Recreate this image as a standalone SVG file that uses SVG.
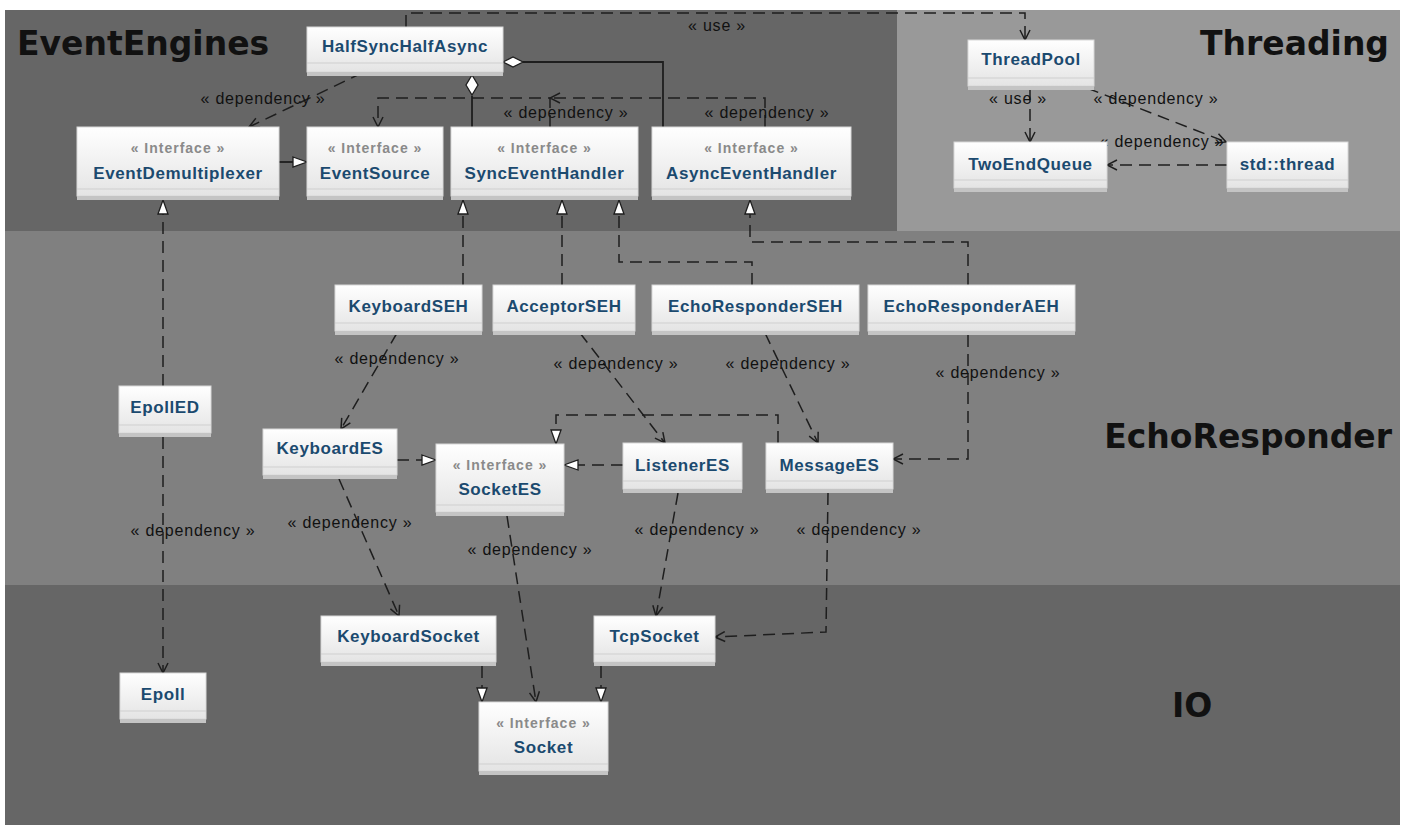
<svg xmlns="http://www.w3.org/2000/svg" width="1408" height="830" viewBox="0 0 1408 830">
<defs>
<linearGradient id="gbox" x1="0" y1="0" x2="0" y2="1">
<stop offset="0" stop-color="#ffffff"/>
<stop offset="1" stop-color="#e4e4e4"/>
</linearGradient>
<marker id="open" viewBox="0 0 12 12" refX="11" refY="6" markerWidth="12" markerHeight="12" markerUnits="userSpaceOnUse" orient="auto">
<path d="M1,1 L11,6 L1,11" fill="none" stroke="#1e1e1e" stroke-width="1.5" stroke-dasharray="none"/>
</marker>
<marker id="tri" viewBox="0 0 16 12" refX="15" refY="6" markerWidth="16" markerHeight="12" markerUnits="userSpaceOnUse" orient="auto">
<path d="M1,1 L15,6 L1,11 Z" fill="#ffffff" stroke="#1e1e1e" stroke-width="1.3" stroke-dasharray="none"/>
</marker>
<style>
.box{fill:url(#gbox);stroke:#d8d8d8;stroke-width:1}
.sep{stroke:#cfcfcf;stroke-width:1}
.foot{fill:#c4c4c4}
.name{font-family:"Liberation Sans",Arial,sans-serif;font-weight:bold;font-size:17px;letter-spacing:0.6px;fill:#1b4a6f;text-anchor:middle}
.ster{font-family:"Liberation Sans",Arial,sans-serif;font-weight:bold;font-size:14px;letter-spacing:1px;fill:#8a8a8a;text-anchor:middle}
.lbl{font-family:"Liberation Sans",Arial,sans-serif;font-size:16px;letter-spacing:0.8px;fill:#111;text-anchor:middle}
.region{font-family:"DejaVu Sans",Verdana,sans-serif;font-weight:bold;font-size:33px;fill:#111}
.dash{fill:none;stroke:#1e1e1e;stroke-width:1.5;stroke-dasharray:12 7}
.solid{fill:none;stroke:#1e1e1e;stroke-width:1.8}
.dep{marker-end:url(#open)}
.real{marker-end:url(#tri)}
.dia{fill:#ffffff;stroke:#1e1e1e;stroke-width:1.3}
</style>
</defs>
<rect x="0" y="0" width="1408" height="830" fill="#ffffff"/>
<g id="regions">
<rect x="5" y="10" width="892" height="222" fill="#666666"/>
<rect x="897" y="10" width="503" height="222" fill="#999999"/>
<rect x="5" y="231" width="1395" height="354" fill="#808080"/>
<rect x="5" y="585" width="1395" height="240" fill="#666666"/>
<text class="region" x="17" y="55">EventEngines</text>
<text class="region" x="1389" y="55" text-anchor="end">Threading</text>
<text class="region" x="1392" y="448" text-anchor="end">EchoResponder</text>
<text class="region" x="1172" y="717">IO</text>
</g>
<g id="connectors">
<path class="dash dep" d="M406,27 L406,13 L1025,13 L1025,40"/>
<text class="lbl" x="717" y="31">« use »</text>
<path class="dash dep" d="M362,73 L249,127"/>
<text class="lbl" x="263" y="104">« dependency »</text>
<path class="dash dep" d="M550,127 L550,98 L378,98 L378,127"/>
<text class="lbl" x="566" y="118">« dependency »</text>
<path class="dash dep" d="M765,127 L765,98 L550,98"/>
<text class="lbl" x="767" y="118">« dependency »</text>
<path class="solid" d="M472,96 L472,127"/>
<polygon class="dia" points="472,75 478,85 472,95 466,85"/>
<path class="solid" d="M523,62 L663,62 L663,127"/>
<polygon class="dia" points="503,62 513,57 523,62 513,67"/>
<path class="solid real" d="M279,162 L307,162"/>
<path class="dash dep" d="M1030,90 L1030,142"/>
<text class="lbl" x="1018" y="104">« use »</text>
<path class="dash dep" d="M1087,88 L1226,142"/>
<text class="lbl" x="1156" y="104">« dependency »</text>
<path class="dash dep" d="M1227,165 L1107,165"/>
<text class="lbl" x="1162" y="147">« dependency »</text>
<path class="dash real" d="M163,386 L163,200"/>
<path class="dash real" d="M463,285 L463,200"/>
<path class="dash real" d="M562,285 L562,200"/>
<path class="dash real" d="M752,285 L752,262 L619,262 L619,200"/>
<path class="dash real" d="M968,285 L968,242 L750,242 L750,200"/>
<path class="dash dep" d="M397,333 L341,429"/>
<text class="lbl" x="397" y="364">« dependency »</text>
<path class="dash dep" d="M580,333 L665,443"/>
<text class="lbl" x="616" y="369">« dependency »</text>
<path class="dash dep" d="M765,333 L818,443"/>
<text class="lbl" x="788" y="369">« dependency »</text>
<path class="dash dep" d="M968,335 L968,459 L893,459"/>
<text class="lbl" x="998" y="378">« dependency »</text>
<path class="dash real" d="M397,460 L436,460"/>
<path class="dash real" d="M623,465 L564,465"/>
<path class="dash real" d="M778,443 L778,415 L556,415 L556,444"/>
<path class="dash dep" d="M163,437 L163,673"/>
<text class="lbl" x="193" y="536">« dependency »</text>
<path class="dash dep" d="M339,479 L399,616"/>
<text class="lbl" x="350" y="528">« dependency »</text>
<path class="dash dep" d="M507,516 L536,702"/>
<text class="lbl" x="530" y="555">« dependency »</text>
<path class="dash dep" d="M678,493 L656,616"/>
<text class="lbl" x="697" y="535">« dependency »</text>
<path class="dash dep" d="M828,493 L826,632 L715,637"/>
<text class="lbl" x="859" y="535">« dependency »</text>
<path class="dash real" d="M482,666 L482,702"/>
<path class="dash real" d="M601,666 L601,702"/>
</g>
<g id="node-HalfSyncHalfAsync" transform="translate(307,27)">
<rect class="box" width="196" height="45"/><line class="sep" x1="0" y1="36" x2="196" y2="36"/><rect class="foot" y="45" width="196" height="4"/>
<text class="name" x="98" y="25">HalfSyncHalfAsync</text>
</g>
<g id="node-EventDemultiplexer" transform="translate(77,127)">
<rect class="box" width="202" height="69"/><line class="sep" x1="0" y1="62" x2="202" y2="62"/><rect class="foot" y="69" width="202" height="4"/>
<text class="ster" x="101" y="26">« Interface »</text>
<text class="name" x="101" y="52">EventDemultiplexer</text>
</g>
<g id="node-EventSource" transform="translate(307,127)">
<rect class="box" width="136" height="69"/><line class="sep" x1="0" y1="62" x2="136" y2="62"/><rect class="foot" y="69" width="136" height="4"/>
<text class="ster" x="68" y="26">« Interface »</text>
<text class="name" x="68" y="52">EventSource</text>
</g>
<g id="node-SyncEventHandler" transform="translate(451,127)">
<rect class="box" width="187" height="69"/><line class="sep" x1="0" y1="62" x2="187" y2="62"/><rect class="foot" y="69" width="187" height="4"/>
<text class="ster" x="93.5" y="26">« Interface »</text>
<text class="name" x="93.5" y="52">SyncEventHandler</text>
</g>
<g id="node-AsyncEventHandler" transform="translate(652,127)">
<rect class="box" width="199" height="69"/><line class="sep" x1="0" y1="62" x2="199" y2="62"/><rect class="foot" y="69" width="199" height="4"/>
<text class="ster" x="99.5" y="26">« Interface »</text>
<text class="name" x="99.5" y="52">AsyncEventHandler</text>
</g>
<g id="node-ThreadPool" transform="translate(968,40)">
<rect class="box" width="126" height="46"/><line class="sep" x1="0" y1="38" x2="126" y2="38"/><rect class="foot" y="46" width="126" height="4"/>
<text class="name" x="63" y="25">ThreadPool</text>
</g>
<g id="node-TwoEndQueue" transform="translate(954,142)">
<rect class="box" width="153" height="46"/><line class="sep" x1="0" y1="38" x2="153" y2="38"/><rect class="foot" y="46" width="153" height="4"/>
<text class="name" x="76.5" y="28">TwoEndQueue</text>
</g>
<g id="node-stdthread" transform="translate(1227,142)">
<rect class="box" width="121" height="46"/><line class="sep" x1="0" y1="38" x2="121" y2="38"/><rect class="foot" y="46" width="121" height="4"/>
<text class="name" x="60.5" y="28">std::thread</text>
</g>
<g id="node-KeyboardSEH" transform="translate(335,285)">
<rect class="box" width="147" height="46"/><line class="sep" x1="0" y1="38" x2="147" y2="38"/><rect class="foot" y="46" width="147" height="4"/>
<text class="name" x="73.5" y="27">KeyboardSEH</text>
</g>
<g id="node-AcceptorSEH" transform="translate(493,285)">
<rect class="box" width="142" height="46"/><line class="sep" x1="0" y1="38" x2="142" y2="38"/><rect class="foot" y="46" width="142" height="4"/>
<text class="name" x="71" y="27">AcceptorSEH</text>
</g>
<g id="node-EchoResponderSEH" transform="translate(652,285)">
<rect class="box" width="207" height="46"/><line class="sep" x1="0" y1="38" x2="207" y2="38"/><rect class="foot" y="46" width="207" height="4"/>
<text class="name" x="103.5" y="27">EchoResponderSEH</text>
</g>
<g id="node-EchoResponderAEH" transform="translate(868,285)">
<rect class="box" width="207" height="46"/><line class="sep" x1="0" y1="38" x2="207" y2="38"/><rect class="foot" y="46" width="207" height="4"/>
<text class="name" x="103.5" y="27">EchoResponderAEH</text>
</g>
<g id="node-EpollED" transform="translate(119,386)">
<rect class="box" width="92" height="47"/><line class="sep" x1="0" y1="39" x2="92" y2="39"/><rect class="foot" y="47" width="92" height="4"/>
<text class="name" x="46" y="27">EpollED</text>
</g>
<g id="node-KeyboardES" transform="translate(263,429)">
<rect class="box" width="134" height="46"/><line class="sep" x1="0" y1="38" x2="134" y2="38"/><rect class="foot" y="46" width="134" height="4"/>
<text class="name" x="67" y="25">KeyboardES</text>
</g>
<g id="node-SocketES" transform="translate(436,444)">
<rect class="box" width="128" height="68"/><line class="sep" x1="0" y1="61" x2="128" y2="61"/><rect class="foot" y="68" width="128" height="4"/>
<text class="ster" x="64" y="26">« Interface »</text>
<text class="name" x="64" y="51">SocketES</text>
</g>
<g id="node-ListenerES" transform="translate(623,443)">
<rect class="box" width="119" height="46"/><line class="sep" x1="0" y1="38" x2="119" y2="38"/><rect class="foot" y="46" width="119" height="4"/>
<text class="name" x="59.5" y="28">ListenerES</text>
</g>
<g id="node-MessageES" transform="translate(766,443)">
<rect class="box" width="127" height="46"/><line class="sep" x1="0" y1="38" x2="127" y2="38"/><rect class="foot" y="46" width="127" height="4"/>
<text class="name" x="63.5" y="28">MessageES</text>
</g>
<g id="node-KeyboardSocket" transform="translate(321,616)">
<rect class="box" width="175" height="46"/><line class="sep" x1="0" y1="38" x2="175" y2="38"/><rect class="foot" y="46" width="175" height="4"/>
<text class="name" x="87.5" y="26">KeyboardSocket</text>
</g>
<g id="node-TcpSocket" transform="translate(594,616)">
<rect class="box" width="121" height="46"/><line class="sep" x1="0" y1="38" x2="121" y2="38"/><rect class="foot" y="46" width="121" height="4"/>
<text class="name" x="60.5" y="26">TcpSocket</text>
</g>
<g id="node-Epoll" transform="translate(120,673)">
<rect class="box" width="86" height="46"/><line class="sep" x1="0" y1="38" x2="86" y2="38"/><rect class="foot" y="46" width="86" height="4"/>
<text class="name" x="43" y="27">Epoll</text>
</g>
<g id="node-Socket" transform="translate(479,702)">
<rect class="box" width="129" height="69"/><line class="sep" x1="0" y1="62" x2="129" y2="62"/><rect class="foot" y="69" width="129" height="4"/>
<text class="ster" x="64.5" y="26">« Interface »</text>
<text class="name" x="64.5" y="51">Socket</text>
</g>
</svg>
